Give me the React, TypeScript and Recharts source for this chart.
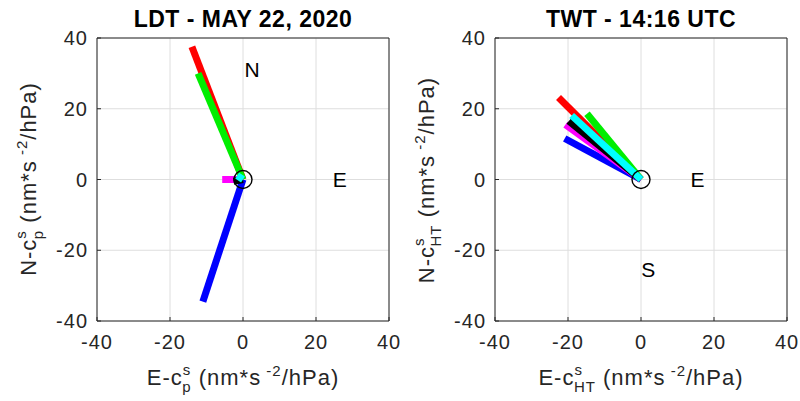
import React from 'react';
import { LineChart, Line, XAxis, YAxis, CartesianGrid, ReferenceDot } from 'recharts';

// series order: red, green, blue, magenta, black, cyan
const seriesColors = ['#ff0000', '#00ee00', '#0000ff', '#ff00ff', '#000000', '#00ffff'];

// LDT panel end points (E, N)
const ldtEast = [-14, -12.3, -11, -5.7, -2.6, -1.6];
const ldtNorth = [37.5, 30, -34.5, 0, -0.5, 1.1];

// TWT panel end points (E, N)
const twtEast = [-22.6, -14.8, -20.9, -20.7, -19.8, -19];
const twtNorth = [23.2, 18.6, 11.6, 15.5, 16.5, 18.1];

const axisTicks = [-40, -20, 0, 20, 40];

const ldtMarks = [
  { x: 2.5, y: 31, text: 'N' },
  { x: 26.5, y: 0, text: 'E' },
];
const twtMarks = [
  { x: 15.5, y: 0, text: 'E' },
  { x: 2, y: -25.5, text: 'S' },
];

const FONT = '"Liberation Sans", Arial, Helvetica, sans-serif';
const TXT = '#262626';

const buildSeries = (east: number[], north: number[]) =>
  east.map((e, i) => [
    { x: 0, y: 0 },
    { x: e, y: north[i] },
  ]);

interface PanelProps {
  left: number;
  east: number[];
  north: number[];
  marks: { x: number; y: number; text: string }[];
  marginLeft: number;
  marginRight: number;
}

const tickStyle = { fill: TXT, fontSize: 20, fontFamily: FONT, letterSpacing: 1 };

const Panel: React.FC<PanelProps> = ({ left, east, north, marks, marginLeft, marginRight }) => {
  const series = buildSeries(east, north);
  return (
    <div style={{ position: 'absolute', left, top: 0, width: 400, height: 401 }}>
      <LineChart
        width={400}
        height={401}
        margin={{ top: 37, right: marginRight, bottom: 50, left: marginLeft }}
      >
        <CartesianGrid stroke="#dedede" ticks={axisTicks} />
        <XAxis
          dataKey="x"
          type="number"
          domain={[-40, 40]}
          ticks={axisTicks}
          height={30}
          stroke="#262626"
          tickSize={-4}
          tickMargin={18}
          tick={tickStyle}
        />
        <XAxis
          xAxisId="top"
          orientation="top"
          type="number"
          domain={[-40, 40]}
          ticks={axisTicks}
          height={1}
          stroke="#262626"
          tickSize={-4}
          tickFormatter={() => ''}
        />
        <YAxis
          dataKey="y"
          type="number"
          domain={[-40, 40]}
          ticks={axisTicks}
          width={60}
          stroke="#262626"
          tickSize={-4}
          tickMargin={13}
          tick={tickStyle}
        />
        <YAxis
          yAxisId="right"
          orientation="right"
          type="number"
          domain={[-40, 40]}
          ticks={axisTicks}
          width={1}
          stroke="#262626"
          tickSize={-4}
          tickFormatter={() => ''}
        />
        {series.map((d, i) => (
          <Line
            key={i}
            data={d}
            dataKey="y"
            type="linear"
            stroke={seriesColors[i]}
            strokeWidth={7}
            dot={false}
            activeDot={false}
            isAnimationActive={false}
          />
        ))}
        <ReferenceDot x={0} y={0} r={9} fill="none" stroke="#000" strokeWidth={1.4} />
        {marks.map((m) => (
          <ReferenceDot
            key={m.text}
            x={m.x}
            y={m.y}
            r={0}
            fill="none"
            stroke="none"
            label={{ value: m.text, position: 'center', fill: '#000', fontSize: 21, fontFamily: FONT }}
          />
        ))}
      </LineChart>
    </div>
  );
};

// axis title: main text with stacked super/subscript on "c", then units
const AxisTitle: React.FC<{ x: number; y: number; sub: string; rotate?: boolean; prefix: string }> = ({
  x,
  y,
  sub,
  rotate,
  prefix,
}) => (
  <text
    x={x}
    y={y}
    textAnchor="middle"
    fontFamily={FONT}
    fontSize={22}
    letterSpacing={1}
    fill={TXT}
    transform={rotate ? `rotate(-90 ${x} ${y})` : undefined}
  >
    <tspan>{prefix}-c</tspan>
    <tspan fontSize={15} dy={-10}>s</tspan>
    <tspan fontSize={15} dx={-9} dy={17}>{sub}</tspan>
    <tspan dy={-7}>{' (nm*s'}</tspan>
    <tspan fontSize={15} dy={-9}>{'\u00a0-2'}</tspan>
    <tspan dy={9}>/hPa)</tspan>
  </text>
);

export default function App() {
  return (
    <div style={{ position: 'absolute', left: 0, top: 0, width: 800, height: 401, background: '#fff' }}>
      <Panel left={0} east={ldtEast} north={ldtNorth} marks={ldtMarks} marginLeft={37} marginRight={10} />
      <Panel left={400} east={twtEast} north={twtNorth} marks={twtMarks} marginLeft={35} marginRight={12} />
      <svg
        width={800}
        height={401}
        style={{ position: 'absolute', left: 0, top: 0, pointerEvents: 'none' }}
      >
        <text
          x={243}
          y={27}
          textAnchor="middle"
          fontFamily={FONT}
          fontSize={23}
          letterSpacing={0.5}
          fontWeight="bold"
          fill="#000"
        >
          LDT - MAY 22, 2020
        </text>
        <text
          x={641}
          y={27}
          textAnchor="middle"
          fontFamily={FONT}
          fontSize={23}
          letterSpacing={0.5}
          fontWeight="bold"
          fill="#000"
        >
          TWT - 14:16 UTC
        </text>
        <AxisTitle x={243} y={385} prefix="E" sub="p" />
        <AxisTitle x={641} y={385} prefix="E" sub="HT" />
        <AxisTitle x={36} y={179} prefix="N" sub="p" rotate />
        <AxisTitle x={434} y={180} prefix="N" sub="HT" rotate />
      </svg>
    </div>
  );
}
